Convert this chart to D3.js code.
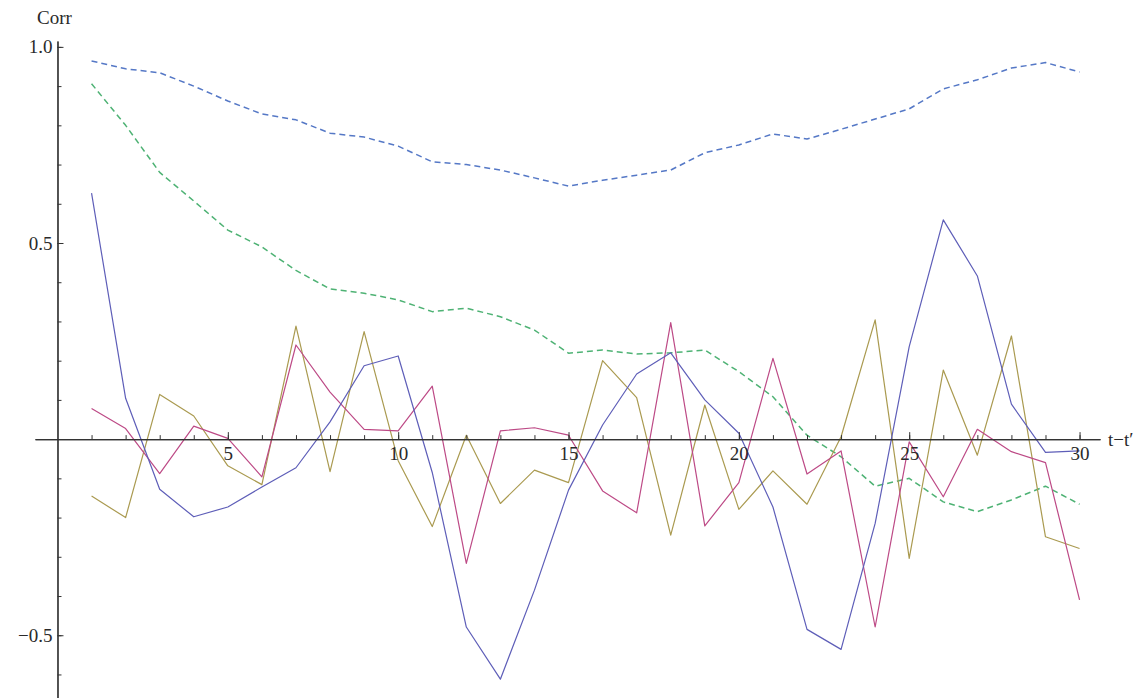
<!DOCTYPE html>
<html>
<head>
<meta charset="utf-8">
<script src="https://cdn.jsdelivr.net/npm/d3@7"></script>
<style>
  html, body { margin: 0; padding: 0; background: #fff; }
  svg { display: block; }
  .lbl { font-family: "Liberation Serif", "DejaVu Serif", serif; font-size: 19px; fill: #2a2a2a; }
</style>
</head>
<body>
<svg id="chart" width="1140" height="698"></svg>
<script>
// Lags t-t'
const lags = [1,2,3,4,5,6,7,8,9,10,11,12,13,14,15,16,17,18,19,20,21,22,23,24,25,26,27,28,29,30];

// Dashed reference curves
const upperDashed = [0.964,0.944,0.934,0.900,0.862,0.829,0.814,0.780,0.770,0.747,0.707,0.700,0.686,0.666,0.645,
                     0.660,0.673,0.686,0.730,0.750,0.778,0.765,0.790,0.816,0.842,0.893,0.916,0.946,0.960,0.936];
const lowerDashed = [0.906,0.800,0.680,0.607,0.533,0.490,0.430,0.383,0.372,0.355,0.325,0.334,0.312,0.278,0.219,
                     0.227,0.217,0.220,0.227,0.172,0.108,0.010,-0.045,-0.120,-0.100,-0.160,-0.185,-0.155,-0.120,-0.166];

// Solid correlation series
const seriesBlue = [0.627,0.104,-0.128,-0.198,-0.173,-0.122,-0.073,0.044,0.187,0.212,-0.085,-0.479,-0.612,-0.385,-0.130,
                    0.036,0.166,0.220,0.100,0.015,-0.173,-0.485,-0.536,-0.215,0.236,0.559,0.416,0.089,-0.034,-0.030];
const seriesMagenta = [0.078,0.027,-0.088,0.033,0.002,-0.096,0.240,0.120,0.025,0.021,0.135,-0.317,0.021,0.029,0.010,
                       -0.132,-0.188,0.297,-0.221,-0.111,0.206,-0.089,-0.030,-0.479,-0.007,-0.147,0.025,-0.032,-0.060,-0.410];
const seriesOlive = [-0.145,-0.200,0.114,0.059,-0.068,-0.116,0.288,-0.083,0.274,-0.055,-0.223,0.010,-0.164,-0.079,-0.111,
                     0.200,0.106,-0.245,0.087,-0.179,-0.081,-0.166,0.006,0.304,-0.304,0.176,-0.041,0.263,-0.249,-0.279];

const xMajorTicks = [5,10,15,20,25,30];
const yMajorTicks = [-0.5,0.5,1.0];

const svg = d3.select("#chart");

const x = d3.scaleLinear().domain([-0.66, 30.6]).range([35, 1100]);
const y = d3.scaleLinear().domain([-0.66, 1.015]).range([698, 41]);

const lineGen = vals => d3.line()
  .x((d, i) => x(lags[i]))
  .y(d => y(d))(vals);

// Series
const series = [
  { vals: upperDashed,   color: "#5578c6", width: 1.5, dash: "6,4" },
  { vals: lowerDashed,   color: "#4eb274", width: 1.5, dash: "6,4" },
  { vals: seriesOlive,   color: "#aa9a50", width: 1.2, dash: null },
  { vals: seriesMagenta, color: "#bd4a86", width: 1.2, dash: null },
  { vals: seriesBlue,    color: "#5e5eb8", width: 1.2, dash: null }
];

svg.append("g").selectAll("path")
  .data(series)
  .join("path")
  .attr("d", s => lineGen(s.vals))
  .attr("fill", "none")
  .attr("stroke", s => s.color)
  .attr("stroke-width", s => s.width)
  .attr("stroke-dasharray", s => s.dash)
  .attr("stroke-linejoin", "round");

// Axes: x axis through y = 0, y axis through x = 0
const axisColor = "#333";
const y0 = y(0), x0 = x(0);

const xMinor = svg.append("g").attr("transform", `translate(0,${y0})`)
  .call(d3.axisBottom(x).tickValues(lags).tickSizeInner(-4).tickSizeOuter(0).tickFormat(""));
const xMajor = svg.append("g").attr("transform", `translate(0,${y0})`)
  .call(d3.axisBottom(x).tickValues(xMajorTicks).tickSizeInner(-7).tickSizeOuter(0).tickPadding(7)
        .tickFormat(d3.format("d")));

const yMinorVals = d3.range(-6, 11).map(k => k / 10).filter(v => v !== 0);
const yMinor = svg.append("g").attr("transform", `translate(${x0},0)`)
  .call(d3.axisLeft(y).tickValues(yMinorVals).tickSizeInner(-4).tickSizeOuter(0).tickFormat(""));
const yMajor = svg.append("g").attr("transform", `translate(${x0},0)`)
  .call(d3.axisLeft(y).tickValues(yMajorTicks).tickSizeInner(-6).tickSizeOuter(0).tickPadding(5)
        .tickFormat(d3.format(".1f")));

[xMinor, xMajor, yMinor, yMajor].forEach(g => {
  g.selectAll("path.domain").attr("stroke", axisColor).attr("stroke-width", 1.2);
  g.selectAll(".tick line").attr("stroke", axisColor).attr("stroke-width", 1);
  g.selectAll(".tick text").attr("class", "lbl").attr("font-family", null).attr("font-size", null);
});
xMajor.selectAll(".tick text").attr("dy", "0.75em");

// Axis titles
svg.append("text").attr("class", "lbl")
  .attr("x", 1108).attr("y", y0 + 7).text("t\u2212t\u2032");
svg.append("text").attr("class", "lbl")
  .attr("x", 37).attr("y", 24).text("Corr");
</script>
</body>
</html>
